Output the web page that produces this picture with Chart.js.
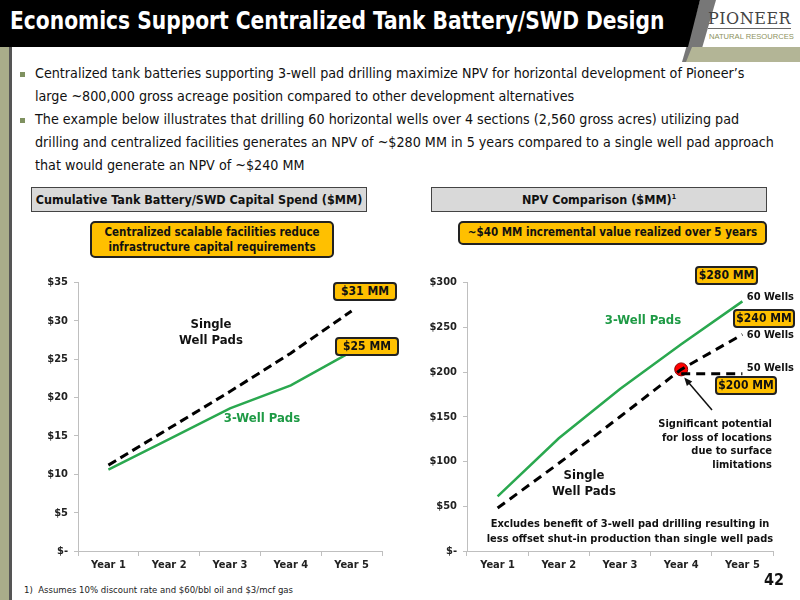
<!DOCTYPE html>
<html>
<head>
<meta charset="utf-8">
<script src="https://cdn.jsdelivr.net/npm/chart.js@4"></script>
<style>
  body { margin: 0; width: 800px; height: 600px; position: relative; overflow: hidden; background: #fff;
         font-family: "DejaVu Sans Condensed", "DejaVu Sans", sans-serif; color: #111; }
  .abs { position: absolute; }
  #hdr { left: 0; top: 0; width: 800px; height: 47px; background: #000;
         clip-path: polygon(0 0, 700px 0, 688px 47px, 0 47px); }
  #hdrGray { left: 0; top: 0; width: 800px; height: 62px; background: #777;
         clip-path: polygon(700px 0, 716px 0, 698px 62px, 682px 62px); }
  #hdrOlive { left: 0; top: 47px; width: 800px; height: 15px; background: #b3b596;
         clip-path: polygon(692px 0, 800px 0, 800px 15px, 686px 15px); }
  #title { left: 10px; top: 6px; color: #fff; font-weight: bold; font-size: 25px; white-space: nowrap;
           transform: scaleX(0.9); transform-origin: 0 0; }
  #logo1 { left: 708px; top: 9px; font-family: "DejaVu Serif", serif; font-size: 16px; color: #444; letter-spacing: 0.5px;
           border-bottom: 1px solid #666; line-height: 19px; white-space: nowrap; }
  #logo2 { left: 709px; top: 32px; font-family: "Liberation Sans", sans-serif; font-size: 7.6px; color: #8d9260; white-space: nowrap; }
  #sideBar { left: 0; top: 47px; width: 9px; height: 553px; background: #a9ad8a; }
  #sideLine { left: 9px; top: 47px; width: 3px; height: 553px; background: #555; }
  .bul { left: 20px; width: 5px; height: 5px; background: #7f9160; }
  .txt { left: 35px; font-size: 14.2px; white-space: nowrap; }
  .secHead { top: 187px; width: 336px; height: 25px; background: #d9d9d9; border: 1px solid #444; box-sizing: border-box;
             font-weight: bold; font-size: 12.5px; text-align: center; line-height: 23px; }
  .call { background: #ffc000; border: 2px solid #222; border-radius: 5px; box-sizing: border-box;
          font-weight: bold; font-size: 11.5px; text-align: center; }
  .tag { background: #ffc000; border: 2px solid #222; border-radius: 4px; box-sizing: border-box;
         font-weight: bold; font-size: 12px; text-align: center; line-height: 15px; height: 19px; }
  .lbl { font-weight: bold; font-size: 13px; text-align: center; line-height: 16px; }
  .sm { font-weight: bold; font-size: 11px; line-height: 14px; }
  sup { font-size: 7px; line-height: 0; vertical-align: 5px; }
  canvas { position: absolute; }
</style>
</head>
<body>
<div id="hdrGray" class="abs"></div>
<div id="hdr" class="abs"></div>
<div id="hdrOlive" class="abs"></div>
<div id="title" class="abs">Economics Support Centralized Tank Battery/SWD Design</div>
<div id="logo1" class="abs">PIONEER</div>
<div id="logo2" class="abs">NATURAL RESOURCES</div>
<div id="sideBar" class="abs"></div>
<div id="sideLine" class="abs"></div>

<div class="abs bul" style="top:72px"></div>
<div class="abs txt" style="top:65px">Centralized tank batteries supporting 3-well pad drilling maximize NPV for horizontal development of Pioneer’s</div>
<div class="abs txt" style="top:88px">large ~800,000 gross acreage position compared to other development alternatives</div>
<div class="abs bul" style="top:118px"></div>
<div class="abs txt" style="top:111px">The example below illustrates that drilling 60 horizontal wells over 4 sections (2,560 gross acres) utilizing pad</div>
<div class="abs txt" style="top:134px">drilling and centralized facilities generates an NPV of ~$280 MM in 5 years compared to a single well pad approach</div>
<div class="abs txt" style="top:157px">that would generate an NPV of ~$240 MM</div>

<div class="abs secHead" style="left:31px">Cumulative Tank Battery/SWD Capital Spend ($MM)</div>
<div class="abs secHead" style="left:431px">NPV Comparison ($MM)<sup>1</sup></div>
<div class="abs call" style="left:90px; top:221px; width:244px; height:37px; line-height:15px; padding-top:2px">Centralized scalable facilities reduce<br>infrastructure capital requirements</div>
<div class="abs call" style="left:458px; top:221px; width:309px; height:24px; line-height:19px">~$40 MM incremental value realized over 5 years</div>

<canvas id="leftChart" width="370" height="310" style="left:20px; top:270px"></canvas>
<canvas id="rightChart" width="380" height="310" style="left:410px; top:270px"></canvas>

<!-- left chart labels -->
<div class="abs tag" style="left:333px; top:282px; width:64px">$31 MM</div>
<div class="abs tag" style="left:335px; top:337px; width:64px">$25 MM</div>
<div class="abs lbl" style="left:161px; top:316px; width:100px">Single<br>Well Pads</div>
<div class="abs lbl" style="left:212px; top:410px; width:100px; color:#1e9a45">3-Well Pads</div>

<!-- right chart labels -->
<div class="abs tag" style="left:695px; top:266px; width:63px">$280 MM</div>
<div class="abs sm" style="left:740px; top:290px; width:54px; text-align:right">60 Wells</div>
<div class="abs tag" style="left:733px; top:309px; width:62px">$240 MM</div>
<div class="abs sm" style="left:740px; top:328px; width:54px; text-align:right">60 Wells</div>
<div class="abs sm" style="left:740px; top:361px; width:54px; text-align:right">50 Wells</div>
<div class="abs tag" style="left:715px; top:376px; width:62px">$200 MM</div>
<div class="abs lbl" style="left:593px; top:312px; width:100px; color:#1e9a45">3-Well Pads</div>
<div class="abs lbl" style="left:534px; top:467px; width:100px">Single<br>Well Pads</div>
<div class="abs sm" style="left:600px; top:417px; width:172px; text-align:right; line-height:13.5px">Significant potential<br>for loss of locations<br>due to surface<br>limitations</div>
<div class="abs sm" style="left:480px; top:517px; width:300px; text-align:center; line-height:14.5px">Excludes benefit of 3-well pad drilling resulting in<br>less offset shut-in production than single well pads</div>

<div class="abs" style="left:24px; top:584px; font-size:9.5px; color:#222">1)&nbsp; Assumes 10% discount rate and $60/bbl oil and $3/mcf gas</div>
<div class="abs" style="left:764px; top:570px; font-size:16px; font-weight:bold">42</div>

<script>
// categories and values
const years = ["Year 1", "Year 2", "Year 3", "Year 4", "Year 5"];

const capexSingle = [11.2, 16.0, 20.8, 25.8, 31.3];
const capexThree = [10.6, 14.6, 18.6, 21.6, 26.0];
const capexTicks = ["$-", "$5", "$10", "$15", "$20", "$25", "$30", "$35"];

const npvThree = [61, 126, 181, 231, 279];
const npvSingle = [48, 98, 150, 203, 242];
const npvFifty = [null, null, null, 198, 198];
const npvLossPoint = [null, null, null, 203, null];
const npvTicks = ["$-", "$50", "$100", "$150", "$200", "$250", "$300"];

const GREEN = "#2aa84f";
const AXIS = "#bfbfbf";
const tickFont = { family: "DejaVu Sans Condensed", size: 11, weight: "bold" };

function axes(max, step, tickLabels, yWidth) {
  return {
    x: {
      offset: true,
      grid: { drawOnChartArea: false, tickLength: 5, color: AXIS, offset: true },
      border: { color: AXIS },
      ticks: { color: "#222", font: tickFont, padding: 3 },
      afterFit: (s) => { s.height = 29; }
    },
    y: {
      min: 0, max: max,
      grid: { drawOnChartArea: false, tickLength: 4, color: AXIS },
      border: { color: AXIS },
      ticks: { stepSize: step, color: "#222", font: tickFont, padding: 6,
               callback: (v, i) => tickLabels[i] },
      afterFit: (s) => { s.width = yWidth; }
    }
  };
}

new Chart(document.getElementById("leftChart"), {
  type: "line",
  data: {
    labels: years,
    datasets: [
      { data: capexSingle, borderColor: "#000", borderWidth: 3, borderDash: [9, 5], pointRadius: 0 },
      { data: capexThree, borderColor: GREEN, borderWidth: 2.5, pointRadius: 0 }
    ]
  },
  options: {
    responsive: false,
    animation: false,
    layout: { padding: { top: 9, right: 8 } },
    plugins: { legend: { display: false }, tooltip: { enabled: false } },
    scales: axes(35, 5, capexTicks, 58)
  }
});

// arrow from the note up to the red dot
const arrowPlugin = {
  id: "arrow",
  afterDatasetsDraw(chart) {
    const pt = chart.getDatasetMeta(3).data[3];
    if (!pt) return;
    const ctx = chart.ctx;
    const x0 = 302, y0 = 140;
    const x1 = pt.x + 3, y1 = pt.y + 8;
    const ang = Math.atan2(y1 - y0, x1 - x0);
    ctx.save();
    ctx.strokeStyle = "#111";
    ctx.fillStyle = "#111";
    ctx.lineWidth = 1.5;
    ctx.beginPath();
    ctx.moveTo(x0, y0);
    ctx.lineTo(x1 - 6 * Math.cos(ang), y1 - 6 * Math.sin(ang));
    ctx.stroke();
    ctx.beginPath();
    ctx.moveTo(x1, y1);
    ctx.lineTo(x1 - 9 * Math.cos(ang - 0.4), y1 - 9 * Math.sin(ang - 0.4));
    ctx.lineTo(x1 - 9 * Math.cos(ang + 0.4), y1 - 9 * Math.sin(ang + 0.4));
    ctx.closePath();
    ctx.fill();
    ctx.restore();
  }
};

new Chart(document.getElementById("rightChart"), {
  type: "line",
  data: {
    labels: years,
    datasets: [
      { data: npvThree, borderColor: GREEN, borderWidth: 2.5, pointRadius: 0 },
      { data: npvSingle, borderColor: "#000", borderWidth: 3, borderDash: [9, 6], pointRadius: 0 },
      { data: npvFifty, borderColor: "#000", borderWidth: 3, borderDash: [9, 6], pointRadius: 0 },
      { data: npvLossPoint, showLine: false, pointRadius: 6.5, pointBackgroundColor: "#ff0000",
        pointBorderColor: "#8b0000", pointBorderWidth: 1 }
    ]
  },
  options: {
    responsive: false,
    animation: false,
    layout: { padding: { top: 9, right: 17 } },
    plugins: { legend: { display: false }, tooltip: { enabled: false } },
    scales: axes(300, 50, npvTicks, 57)
  },
  plugins: [arrowPlugin]
});
</script>
</body>
</html>
